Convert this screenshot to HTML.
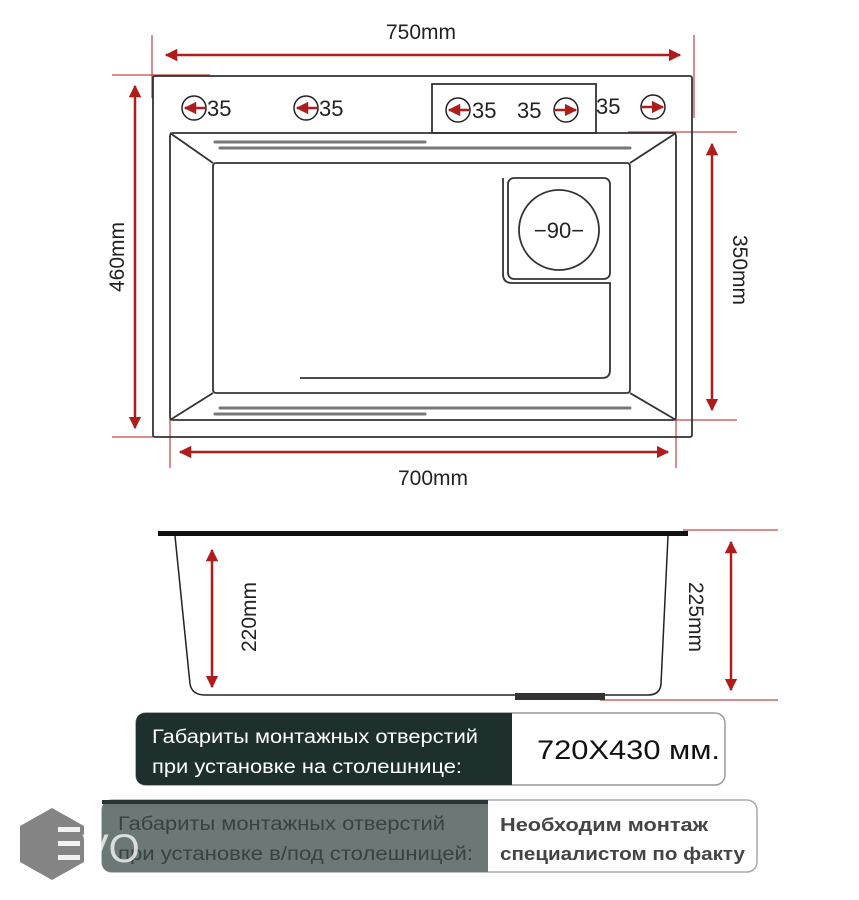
<!DOCTYPE html>
<html><head><meta charset="utf-8"><style>
html,body{margin:0;padding:0;background:#fff;}
svg{display:block;font-family:"Liberation Sans","DejaVu Sans",sans-serif;}
</style></head><body>
<svg width="859" height="900" viewBox="0 0 859 900" xmlns="http://www.w3.org/2000/svg">
<defs>
<marker id="a" viewBox="0 0 10 10" refX="9" refY="5" markerWidth="5" markerHeight="5" orient="auto-start-reverse"><path d="M0,0 L10,5 L0,10 z" fill="#b01c1c"/></marker>
<linearGradient id="g" x1="0" x2="1"><stop offset="0" stop-color="#333" stop-opacity="0"/><stop offset="0.4" stop-color="#333"/></linearGradient>
</defs>
<g stroke="#b01c1c" stroke-width="1" fill="none">
<line x1="152" y1="35" x2="152" y2="98"/>
<line x1="694" y1="35" x2="694" y2="118"/>
<line x1="112" y1="75" x2="210" y2="75"/>
<line x1="112" y1="437" x2="195" y2="437"/>
<line x1="628" y1="132" x2="737" y2="132"/>
<line x1="628" y1="420" x2="737" y2="420"/>
<line x1="170" y1="370" x2="170" y2="468"/>
<line x1="676" y1="370" x2="676" y2="468"/>
<line x1="683" y1="530" x2="778" y2="530"/>
<line x1="600" y1="700" x2="778" y2="700"/>
</g>
<g stroke="#b01c1c" stroke-width="2.5" fill="none" marker-start="url(#a)" marker-end="url(#a)">
<line x1="166" y1="55" x2="680" y2="55"/>
<line x1="135" y1="86" x2="135" y2="428"/>
<line x1="712" y1="144" x2="712" y2="410"/>
<line x1="180" y1="452" x2="668" y2="452"/>
<line x1="212" y1="550" x2="212" y2="687"/>
<line x1="731" y1="542" x2="731" y2="690"/>
</g>
<g fill="#222" font-size="21">
<text x="421" y="39" text-anchor="middle">750mm</text>
<text x="433" y="485" text-anchor="middle">700mm</text>
<text transform="translate(124,257) rotate(-90)" text-anchor="middle">460mm</text>
<text transform="translate(733,270) rotate(90)" text-anchor="middle">350mm</text>
<text transform="translate(256,617) rotate(-90)" text-anchor="middle">220mm</text>
<text transform="translate(689,617) rotate(90)" text-anchor="middle">225mm</text>
</g>
<g fill="none" stroke="#333" stroke-width="1.8">
<rect x="153" y="76" width="539" height="361" rx="2"/>
<rect x="432" y="84" width="164" height="49"/>
<rect x="170" y="133" width="506" height="287" rx="3"/>
<rect x="213" y="163" width="417" height="230" rx="3"/>
<line x1="170" y1="133" x2="213" y2="163"/><line x1="676" y1="133" x2="630" y2="163"/>
<line x1="170" y1="420" x2="213" y2="393"/><line x1="676" y1="420" x2="630" y2="393"/>
<rect x="508" y="178" width="102" height="101" rx="6"/>
<circle cx="559" cy="230" r="40"/>
<path d="M503,178 L503,274 Q503,283 512,283 L610,283 L610,370 Q610,378 602,378 L300,378" />
</g>
<line x1="300" y1="178" x2="503" y2="178" stroke="url(#g)" stroke-width="2"/>
<g stroke="#777" stroke-width="3" stroke-linecap="round">
<line x1="215" y1="142" x2="425" y2="142"/><line x1="220" y1="148" x2="630" y2="148"/>
<line x1="220" y1="408" x2="630" y2="408"/><line x1="215" y1="414" x2="425" y2="414"/>
</g>
<text x="559" y="238" text-anchor="middle" font-size="22" fill="#222">−90−</text>
<g fill="none" stroke="#222" stroke-width="1.5">
<circle cx="194" cy="108" r="12"/><circle cx="306" cy="108" r="12"/>
<circle cx="458" cy="110" r="12"/><circle cx="566" cy="110" r="12"/><circle cx="653" cy="107" r="12"/>
</g>
<g stroke="#b01c1c" stroke-width="2.5" marker-end="url(#a)">
<line x1="205" y1="108" x2="185" y2="108"/><line x1="317" y1="108" x2="297" y2="108"/>
<line x1="469" y1="110" x2="449" y2="110"/><line x1="555" y1="110" x2="576" y2="110"/>
<line x1="642" y1="107" x2="663" y2="107"/>
</g>
<g font-size="22" fill="#222">
<text x="207" y="116">35</text><text x="319" y="116">35</text>
<text x="472" y="118">35</text><text x="517" y="118">35</text><text x="596" y="114">35</text>
</g>
<rect x="158" y="531" width="530" height="5" fill="#111"/>
<path d="M175,536 L190,684 Q192,695 205,695 L648,695 Q660,695 661,684 L668,536" fill="none" stroke="#222" stroke-width="1.5"/>
<rect x="515" y="693" width="90" height="7" fill="#333"/>
<rect x="136" y="713" width="589" height="72" rx="10" fill="#fff" stroke="#999" stroke-width="1.5"/>
<path d="M146,713 L512,713 L512,785 L146,785 Q136,785 136,775 L136,723 Q136,713 146,713z" fill="#1e302d"/>
<g font-size="19" fill="#fff"><text x="152" y="743" textLength="326" lengthAdjust="spacingAndGlyphs">Габариты монтажных отверстий</text><text x="152" y="773" textLength="310" lengthAdjust="spacingAndGlyphs">при установке на столешнице:</text></g>
<text x="537" y="759" font-size="27" fill="#111" textLength="183" lengthAdjust="spacingAndGlyphs">720X430 мм.</text>
<rect x="102" y="800" width="655" height="72" rx="10" fill="#fff" stroke="#aaa" stroke-width="1.5"/>
<path d="M112,800 L488,800 L488,872 L112,872 Q102,872 102,862 L102,810 Q102,800 112,800z" fill="#6c7876"/>
<rect x="102" y="800" width="386" height="4" fill="#2a3533"/>
<g font-size="19" fill="#3a4240"><text x="118" y="830" textLength="327" lengthAdjust="spacingAndGlyphs">Габариты монтажных отверстий</text><text x="118" y="860" textLength="355" lengthAdjust="spacingAndGlyphs">при установке в/под столешницей:</text></g>
<g font-size="18" fill="#444" font-weight="bold"><text x="500" y="831" textLength="208" lengthAdjust="spacingAndGlyphs">Необходим монтаж</text><text x="500" y="860" textLength="245" lengthAdjust="spacingAndGlyphs">специалистом по факту</text></g>
<polygon points="52,808 84,826 84,862 52,880 20,862 20,826" fill="#777" opacity="0.9"/>
<g fill="#fff" opacity="0.9"><rect x="58" y="827" width="22" height="5"/><rect x="58" y="841" width="22" height="5"/><rect x="58" y="855" width="22" height="5"/></g>
<text x="82" y="862" font-size="40" fill="#fff" opacity="0.75">VO</text>
</svg>
</body></html>
